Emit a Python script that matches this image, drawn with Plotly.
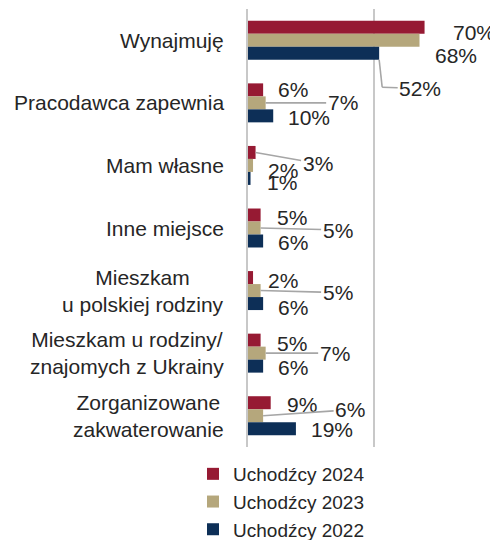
import plotly.graph_objects as go

# ---- data ----
categories = [
    "Wynajmuję",
    "Pracodawca zapewnia",
    "Mam własne",
    "Inne miejsce",
    "Mieszkam<br>u polskiej rodziny",
    "Mieszkam u rodziny/<br>znajomych z Ukrainy",
    "Zorganizowane<br>zakwaterowanie",
]
series_names = ["Uchodźcy 2024", "Uchodźcy 2023", "Uchodźcy 2022"]
v2024 = [70, 6, 3, 5, 2, 5, 9]
v2023 = [68, 7, 2, 5, 5, 7, 6]
v2022 = [52, 10, 1, 6, 6, 6, 19]
series_values = [v2024, v2023, v2022]

# ---- styles / label placement (pixel offsets of label centre from bar end) ----
colors = ["#961A33", "#B5A77C", "#0D2F57"]
TXT = "#262626"
LEAD = "#A6A6A6"
FONT = "Liberation Sans, Arial, sans-serif"
FS = 21
label_offsets = [
    [(49, 5, 0), (30, 0, 0), (62, 11, 1), (31, 2, 0), (30, 3, 0), (31, 3, 0), (31, 2, 0)],
    [(36, 15, 0), (77, 0, 1), (30, 5, 0), (77, 2, 1), (77, 2, 1), (69, 0, 1), (87, -6, 1)],
    [(41, 35, 2), (36, 2, 0), (31, 4, 0), (30, 2, 0), (30, 4, 0), (30, 1, 0), (36, 1, 0)],
]

# page body has an 8px margin, so the figure is 8px smaller than the window
W, H = 490, 532
ML, MR, MT, MB = 240, 23, 1, 93
bargap = 0.377
n = len(categories)
px_per_cat = (H - MT - MB) / n
bw = (1 - bargap) / 3

fig = go.Figure()
for name, vals, col in zip(series_names, series_values, colors):
    fig.add_trace(go.Bar(
        y=list(range(n)), x=vals, name=name, orientation="h",
        marker=dict(color=col, line=dict(width=0)),
        hoverinfo="skip",
    ))

annotations = []
shapes = []
for j, vals in enumerate(series_values):
    for i, v in enumerate(vals):
        yc = i - (1 - bargap) / 2 + (j + 0.5) * bw
        dx, dy, mode = label_offsets[j][i]
        txt = f"{v}%"
        if mode == 0:
            annotations.append(dict(x=v, y=yc, xref="x", yref="y", text=txt,
                                    showarrow=False, xanchor="center", yanchor="middle",
                                    xshift=dx, yshift=-dy,
                                    font=dict(size=FS, color=TXT, family=FONT)))
        elif mode == 1:
            annotations.append(dict(x=v, y=yc, xref="x", yref="y", text=txt,
                                    showarrow=True, arrowhead=0, arrowwidth=1.6,
                                    arrowcolor=LEAD, ax=dx, ay=dy, standoff=0,
                                    xanchor="center", yanchor="middle",
                                    font=dict(size=FS, color=TXT, family=FONT)))
        else:
            ybot = yc + bw / 2
            yel = yc + (dy - 1) / px_per_cat
            shapes.append(dict(type="line", xref="x", yref="y", x0=v, x1=v + 1.2,
                               y0=ybot, y1=yel, line=dict(color=LEAD, width=1.6),
                               layer="above"))
            annotations.append(dict(x=v + 1.2, y=yel, xref="x", yref="y", text=txt,
                                    showarrow=True, arrowhead=0, arrowwidth=1.6,
                                    arrowcolor=LEAD, ax=dx - 3, ay=1, standoff=0,
                                    xanchor="center", yanchor="middle",
                                    font=dict(size=FS, color=TXT, family=FONT)))

for i, c in enumerate(categories):
    annotations.append(dict(x=0, y=i, xref="paper", yref="y", text=c,
                            showarrow=False, xanchor="right", yanchor="middle",
                            align="center", xshift=-22,
                            font=dict(size=FS, color=TXT, family=FONT)))

fig.update_layout(
    width=W, height=H,
    margin=dict(l=ML, r=MR, t=MT, b=MB, autoexpand=False),
    paper_bgcolor="white", plot_bgcolor="white",
    barmode="group", bargap=bargap, bargroupgap=0,
    font=dict(family=FONT, color=TXT, size=FS),
    xaxis=dict(range=[0, 90], showticklabels=False, ticks="", showgrid=True,
               tickmode="array", tickvals=[50], gridcolor="#C8C8C8", gridwidth=2,
               zeroline=False, showline=False, fixedrange=True),
    yaxis=dict(range=[n - 0.5, -0.5], showticklabels=False, ticks="",
               showgrid=False, zeroline=False, showline=True,
               linecolor="#C8C8C8", linewidth=2, fixedrange=True),
    legend=dict(xref="container", yref="container", x=0.3776, y=0.1598,
                xanchor="left", yanchor="top", orientation="v",
                font=dict(size=19, color=TXT, family=FONT),
                tracegroupgap=0, itemclick=False, itemdoubleclick=False,
                bgcolor="rgba(0,0,0,0)"),
    annotations=annotations,
    shapes=shapes,
    showlegend=True,
)

fig.write_html("out.html", config={"displayModeBar": False})
